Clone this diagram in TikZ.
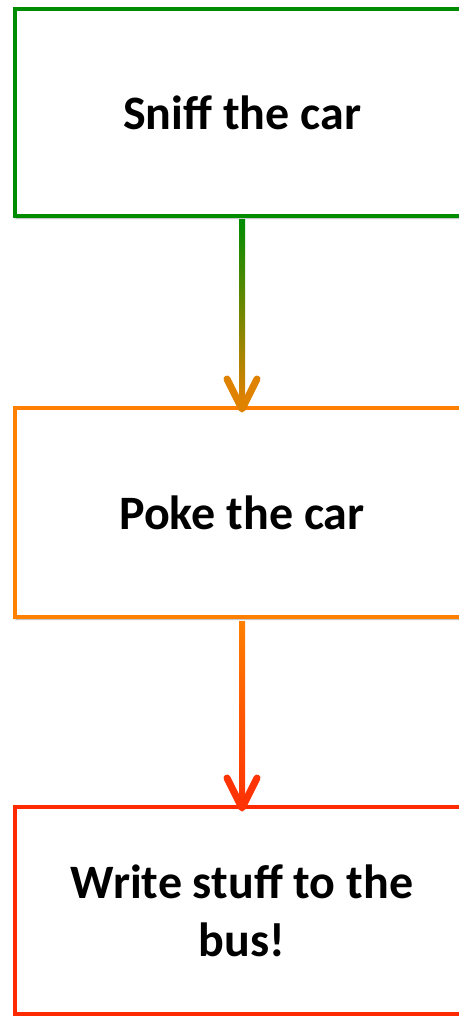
\documentclass[tikz,border=0pt]{standalone}
\usepackage{fontspec}
\setmainfont{Carlito}
\usetikzlibrary{shadows.blur}
\definecolor{cgreen}{RGB}{0,140,0}
\definecolor{corange}{RGB}{255,128,0}
\definecolor{cred}{RGB}{255,42,0}
\definecolor{cdarkorange}{RGB}{222,130,0}
\definecolor{credarrow}{RGB}{255,52,5}
\tikzset{
  stepbox/.style={draw, fill=white, line width=4pt, minimum width=454pt,
    inner sep=0pt, align=center, font=\fontsize{48}{58}\selectfont\bfseries,
    blur shadow={shadow xshift=1.5pt, shadow yshift=-2pt, shadow blur steps=6, shadow opacity=35}},
  headline/.style={line width=7pt, line cap=round, line join=round}
}
\begin{document}
\begin{tikzpicture}[x=1pt,y=-1pt]
\useasboundingbox[fill=white] (0,0) rectangle (458,1016);
\node[stepbox, draw=cgreen, minimum height=207pt] (a) at (242,112.5) {Sniff the car};
\node[stepbox, draw=corange, minimum height=209pt] (b) at (242,512.5) {Poke the car};
\node[stepbox, draw=cred, minimum height=207pt] (c) at (242,910.5) {Write stuff to the\\bus!};
% arrow a -> b
\shade[top color=cgreen, bottom color=cdarkorange] ([xshift=-3pt,yshift=-2pt]a.south) rectangle ([xshift=3pt,yshift=6pt]b.north);
\draw[headline, cdarkorange] ([xshift=-15pt,yshift=27pt]b.north) -- ([yshift=-3pt]b.north) -- ([xshift=15pt,yshift=27pt]b.north);
% arrow b -> c
\shade[top color=corange, bottom color=credarrow] ([xshift=-3pt,yshift=-2pt]b.south) rectangle ([xshift=3pt,yshift=6pt]c.north);
\draw[headline, credarrow] ([xshift=-15pt,yshift=27pt]c.north) -- ([yshift=-3pt]c.north) -- ([xshift=15pt,yshift=27pt]c.north);
\end{tikzpicture}
\end{document}
